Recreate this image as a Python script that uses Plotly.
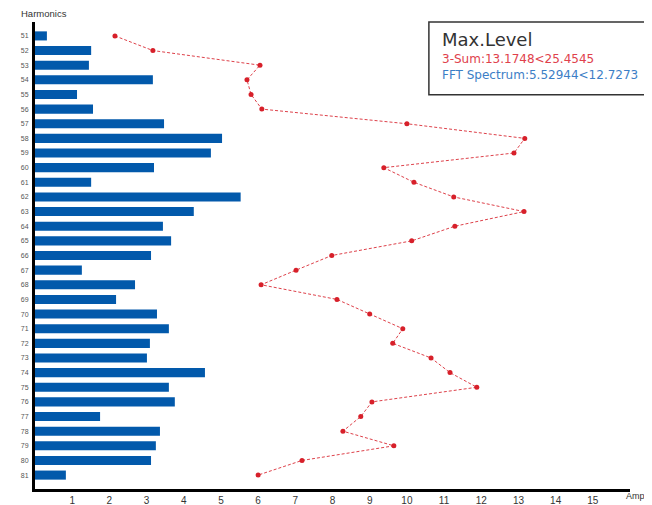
import plotly.graph_objects as go

# ---- data ----
HARMONICS = [str(h) for h in range(51, 82)]
FFT_SPECTRUM = [0.32, 1.51, 1.45, 3.17, 1.13, 1.56, 3.47, 5.03, 4.73, 3.20,
                1.51, 5.53, 4.27, 3.44, 3.66, 3.12, 1.26, 2.69, 2.18, 3.28,
                3.60, 3.09, 3.01, 4.57, 3.60, 3.76, 1.75, 3.36, 3.25, 3.12,
                0.83]
SUM3 = [2.15, 3.17, 6.05, 5.70, 5.81, 6.10, 10.00, 13.17, 12.88, 9.38,
        10.19, 11.26, 13.15, 11.29, 10.13, 7.98, 7.02, 6.08, 8.12, 9.00,
        9.89, 9.62, 10.65, 11.16, 11.88, 9.06, 8.76, 8.28, 9.65, 7.18,
        6.00]
X_TICKS = list(range(1, 16))

BLUE = "#0259AB"
RED = "#D7202A"
FONT = "Liberation Sans, Arial, sans-serif"

fig = go.Figure()
fig.add_trace(go.Bar(
    x=FFT_SPECTRUM, y=HARMONICS, orientation="h",
    width=0.62, marker=dict(color=BLUE, line=dict(width=0)),
    name="FFT Spectrum",
))
fig.add_trace(go.Scatter(
    x=SUM3, y=HARMONICS, mode="lines+markers",
    line=dict(color="rgba(215,32,42,0.85)", width=1, dash="3px,2px"),
    marker=dict(color=RED, size=5),
    name="3-Sum",
))

# page has an 8px body margin, so the figure is a bit smaller than the window
fig.update_layout(
    width=644, height=497,
    margin=dict(l=27, r=22, t=14, b=16),
    paper_bgcolor="white", plot_bgcolor="white",
    showlegend=False,
    font=dict(family=FONT, size=10, color="#333"),
    xaxis=dict(
        range=[0, 16], tickvals=X_TICKS, showgrid=False, zeroline=False,
        showline=True, linecolor="black", linewidth=3,
        ticks="", ticklabelstandoff=0,
        tickfont=dict(size=10, color="#333", family=FONT),
        automargin=False,
    ),
    yaxis=dict(
        type="category", range=[30.95, -0.95], showgrid=False, zeroline=False,
        showline=True, linecolor="black", linewidth=3,
        ticks="outside", ticklen=2, tickcolor="white",
        tickfont=dict(size=7, color="#555", family=FONT),
        automargin=False,
    ),
    shapes=[dict(
        type="rect", xref="paper", yref="paper",
        x0=0.662, x1=1.06, y0=0.844, y1=1.0,
        line=dict(color="#333", width=1.5), fillcolor="white", layer="above",
    )],
)

fig.add_annotation(text="Harmonics", xref="paper", yref="paper", x=-0.027, y=1.019,
                   xanchor="left", yanchor="middle", showarrow=False,
                   font=dict(size=9.5, color="#333", family=FONT))
fig.add_annotation(text="Amplitude", xref="paper", yref="paper", x=0.99, y=-0.015,
                   xanchor="left", yanchor="middle", showarrow=False,
                   font=dict(size=9, color="#333", family=FONT))
fig.add_annotation(text="Max.Level", xref="paper", yref="paper", x=0.681, y=0.9615,
                   xanchor="left", yanchor="middle", showarrow=False,
                   font=dict(size=18, color="#333", family="DejaVu Sans"))
fig.add_annotation(text="3-Sum:13.1748<25.4545", xref="paper", yref="paper", x=0.681, y=0.921,
                   xanchor="left", yanchor="middle", showarrow=False,
                   font=dict(size=12, color="#E0414C", family="DejaVu Sans"))
fig.add_annotation(text="FFT Spectrum:5.52944<12.7273", xref="paper", yref="paper", x=0.681, y=0.887,
                   xanchor="left", yanchor="middle", showarrow=False,
                   font=dict(size=12, color="#3C7EC6", family="DejaVu Sans"))

fig.write_html("out.html")
